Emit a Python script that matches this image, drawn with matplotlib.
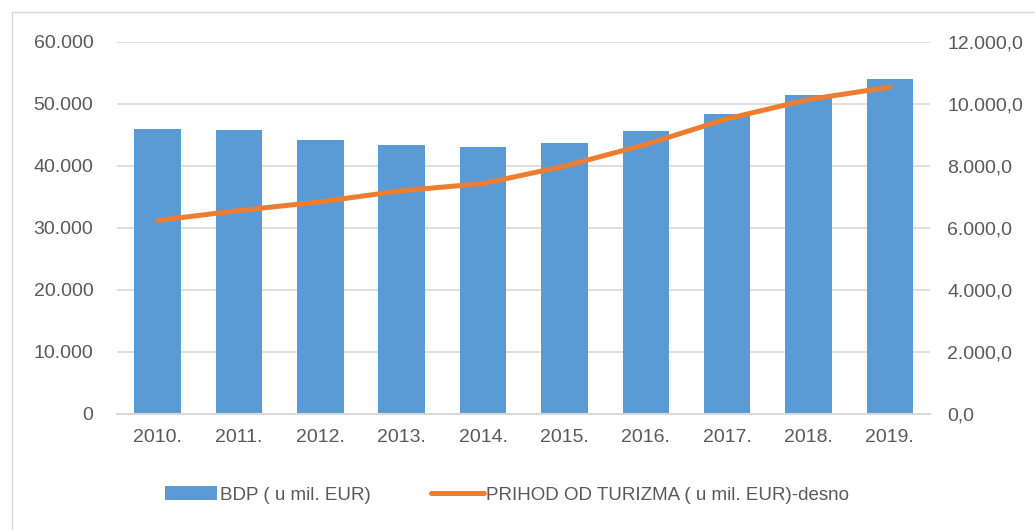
import matplotlib.pyplot as plt
from matplotlib.ticker import FuncFormatter
from matplotlib.patches import Rectangle

years = ['2010.', '2011.', '2012.', '2013.', '2014.', '2015.', '2016.', '2017.', '2018.', '2019.']
bdp = [45950, 45850, 44200, 43400, 43050, 43750, 45600, 48400, 51500, 53950]
turizam = [6240, 6560, 6840, 7200, 7430, 7990, 8690, 9520, 10140, 10540]

plt.rcParams['font.family'] = ['Liberation Sans', 'DejaVu Sans']
gray = '#595959'

fig = plt.figure(figsize=(10.35, 5.3), dpi=100)
ax = fig.add_axes([0.113, 0.219, 0.786, 0.702])
ax2 = ax.twinx()

x = range(len(years))
ax.bar(x, bdp, width=0.57, color='#5B9BD5', zorder=2, label='BDP ( u mil. EUR)')
ax2.plot(x, turizam, color='#ED7D31', lw=3.6, solid_capstyle='round',
         solid_joinstyle='round', label='PRIHOD OD TURIZMA ( u mil. EUR)-desno')

ax.set_xlim(-0.5, len(years) - 0.5)
ax.set_ylim(0, 60000)
ax2.set_ylim(0, 12000)
ax.set_yticks(range(0, 60001, 10000))
ax2.set_yticks(range(0, 12001, 2000))

def thousands(v, decimals):
    s = f'{v:,.{decimals}f}'
    return s.replace(',', 'X').replace('.', ',').replace('X', '.')

ax.yaxis.set_major_formatter(FuncFormatter(lambda v, p: thousands(v, 0)))
ax2.yaxis.set_major_formatter(FuncFormatter(lambda v, p: thousands(v, 1)))

ax.set_xticks(list(x))
ax.set_xticklabels(years)
ax.grid(axis='y', color='#d9d9d9', lw=1.2, zorder=0)
ax.set_axisbelow(True)

for a in (ax, ax2):
    for s in a.spines.values():
        s.set_visible(False)
    a.tick_params(length=0, labelsize=14, colors=gray)
ax.spines['bottom'].set_visible(True)
ax.spines['bottom'].set_color('#d9d9d9')
ax.spines['bottom'].set_linewidth(1.5)
ax.tick_params(axis='y', pad=17)
ax2.tick_params(axis='y', pad=12)
ax.tick_params(axis='x', pad=11)

h1, l1 = ax.get_legend_handles_labels()
h2, l2 = ax2.get_legend_handles_labels()
fig.legend(h1 + h2, l1 + l2, loc='center', bbox_to_anchor=(0.49, 0.066), ncol=2,
           frameon=False, fontsize=13.5, labelcolor=gray, handlelength=2.8,
           handletextpad=0.15, columnspacing=3.2)

fig.patches.append(Rectangle((0.012, -0.01), 1.0, 0.988, transform=fig.transFigure,
                             fill=False, edgecolor='#d9d9d9', lw=1))

fig.savefig('out.png', dpi=100)
